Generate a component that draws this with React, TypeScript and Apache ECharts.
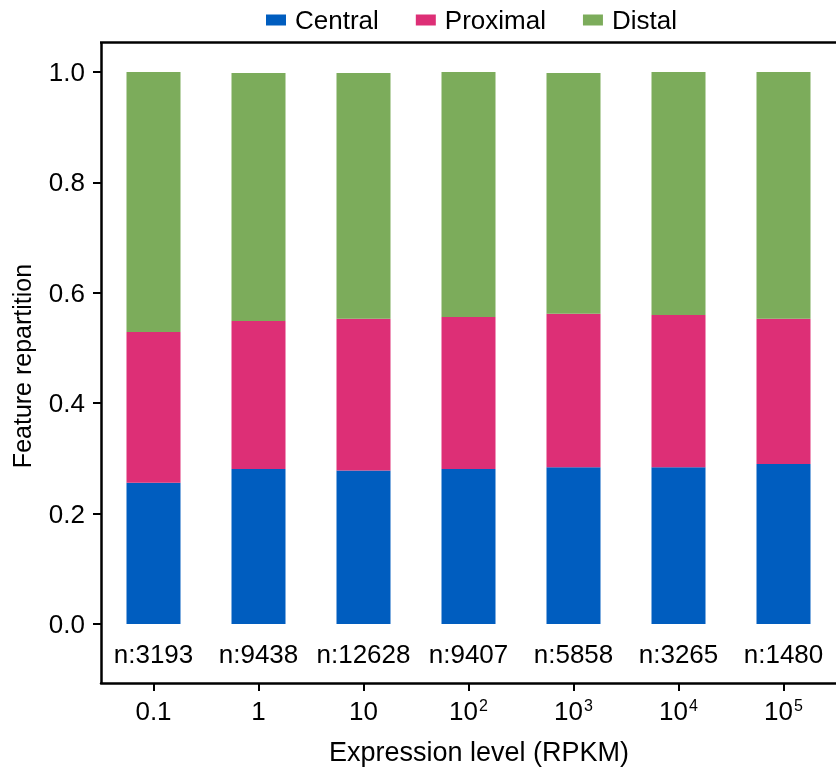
import React, { useEffect, useRef } from "react";
import * as echarts from "echarts";

const categories = ["0.1", "1", "10", "10^2", "10^3", "10^4", "10^5"];
const counts = ["n:3193", "n:9438", "n:12628", "n:9407", "n:5858", "n:3265", "n:1480"];
const central = [0.256, 0.281, 0.278, 0.281, 0.284, 0.284, 0.29];
const proximal = [0.273, 0.268, 0.275, 0.275, 0.278, 0.276, 0.263];
const distal = [0.471, 0.449, 0.445, 0.444, 0.436, 0.44, 0.447];
const yTicks = [0, 0.2, 0.4, 0.6, 0.8, 1.0];

const FONT = "Liberation Sans, Arial, Helvetica, sans-serif";
const COLORS = ["#005DBF", "#DD2F76", "#7CAC5B"];

export default function App() {
  const ref = useRef<HTMLDivElement>(null);
  useEffect(() => {
    if (!ref.current) return;
    const chart = echarts.init(ref.current, null, { renderer: "svg" });
    const lineColor = "#000";
    chart.setOption({
      animation: false,
      textStyle: { fontFamily: FONT },
      legend: {
        left: 261,
        top: 2,
        itemWidth: 20,
        itemHeight: 11,
        itemGap: 37,
        icon: "rect",
        textStyle: { fontSize: 26, color: "#000", fontFamily: FONT, padding: [0, 0, 0, 4] },
        data: ["Central", "Proximal", "Distal"],
      },
      grid: { left: 101, top: 72, width: 742, height: 552, containLabel: false },
      xAxis: [
        {
          type: "category",
          data: categories,
          position: "bottom",
          offset: 59,
          axisLine: { show: true, onZero: false, lineStyle: { color: lineColor, width: 2.5 } },
          axisTick: { show: true, alignWithLabel: true, interval: 0, length: 8, lineStyle: { color: lineColor, width: 2 } },
          axisLabel: {
            interval: 0,
            margin: 14,
            color: "#000",
            fontSize: 26,
            fontFamily: FONT,
            formatter: (v: string) => {
              const parts = v.split("^");
              if (parts.length === 2) return `{b|${parts[0]}}{s|${parts[1]}}`;
              return `{b|${v}}`;
            },
            rich: {
              b: { fontSize: 26, fontFamily: FONT, color: "#000", lineHeight: 28 },
              s: { fontSize: 16, fontFamily: FONT, color: "#000", verticalAlign: "top", lineHeight: 28, padding: [0, 0, 12, 1] },
            },
          },
          splitLine: { show: false },
        },
        {
          type: "category",
          data: counts,
          position: "bottom",
          offset: 0,
          axisLine: { show: false, onZero: false },
          axisTick: { show: false },
          axisLabel: { margin: 17, color: "#000", fontSize: 26, fontFamily: FONT, interval: 0 },
          splitLine: { show: false },
        },
      ],
      yAxis: {
        type: "value",
        min: 0,
        max: 1,
        interval: 0.2,
        axisLine: { show: false },
        axisTick: { show: true, length: 8, lineStyle: { color: lineColor, width: 2 } },
        axisLabel: {
          margin: 16,
          color: "#000",
          fontSize: 26,
          fontFamily: FONT,
          formatter: (v: number) => (yTicks.some((t) => Math.abs(t - v) < 1e-6) ? v.toFixed(1) : ""),
        },
        splitLine: { show: false },
      },
      series: [
        { name: "Central", type: "bar", stack: "s", data: central, barWidth: 54, xAxisIndex: 0, itemStyle: { color: COLORS[0] } },
        { name: "Proximal", type: "bar", stack: "s", data: proximal, barWidth: 54, xAxisIndex: 0, itemStyle: { color: COLORS[1] } },
        { name: "Distal", type: "bar", stack: "s", data: distal, barWidth: 54, xAxisIndex: 0, itemStyle: { color: COLORS[2] } },
      ],
      graphic: [
        { type: "line", shape: { x1: 101.5, y1: 42, x2: 101.5, y2: 684 }, style: { stroke: lineColor, lineWidth: 2.5 } },
        { type: "line", shape: { x1: 100, y1: 42.5, x2: 836, y2: 42.5 }, style: { stroke: lineColor, lineWidth: 2.5 } },
        {
          type: "text",
          x: 22,
          y: 366,
          rotation: Math.PI / 2,
          style: { text: "Feature repartition", fontSize: 25, fontFamily: FONT, fill: "#000", align: "center", verticalAlign: "middle" },
        },
        {
          type: "text",
          x: 479,
          y: 752,
          style: { text: "Expression level (RPKM)", fontSize: 27, fontFamily: FONT, fill: "#000", align: "center", verticalAlign: "middle" },
        },
      ],
    });
    return () => chart.dispose();
  }, []);
  return <div ref={ref} style={{ position: "fixed", left: 0, top: 0, width: 836, height: 772 }} />;
}
